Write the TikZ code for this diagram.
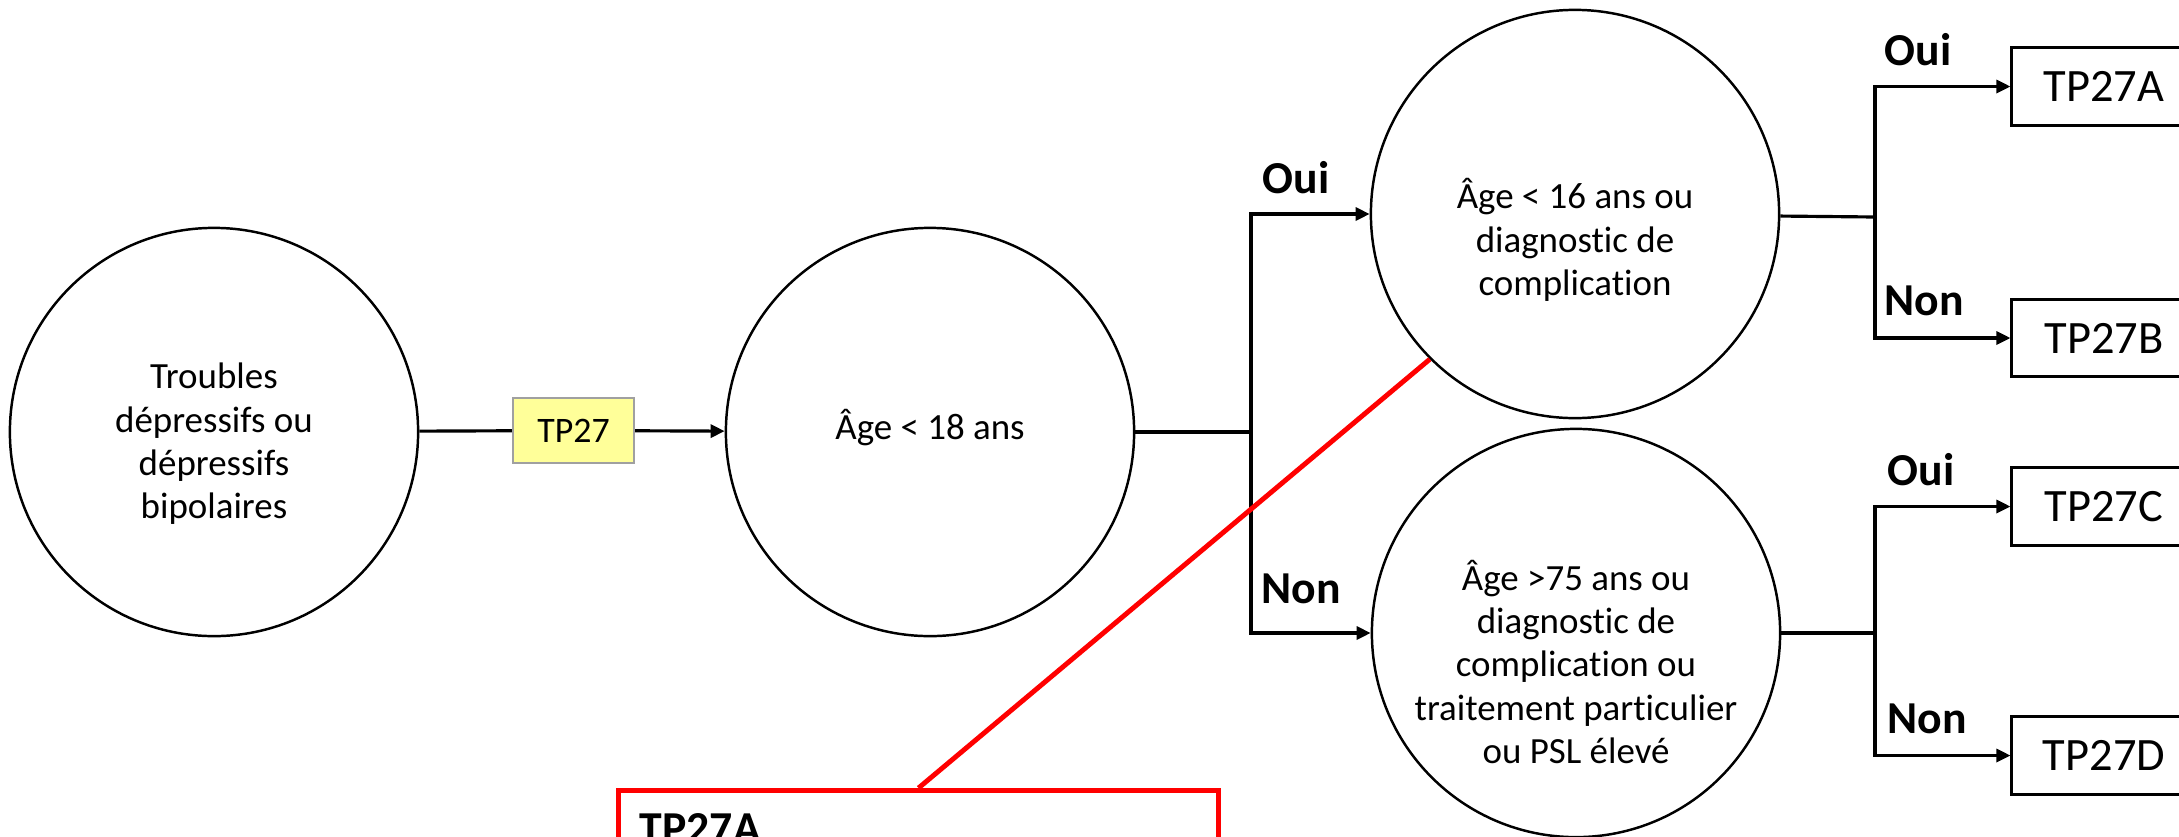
\documentclass[tikz,border=0pt]{standalone}
\usepackage{fontspec}
\setmainfont{Carlito}[Ligatures=NoCommon]
\usetikzlibrary{arrows.meta}
\definecolor{tagyellow}{RGB}{255,255,153}
\definecolor{taggray}{RGB}{160,160,160}
\tikzset{
  decision/.style={circle,draw,line width=0.7pt,minimum size=4.08cm,inner sep=0pt},
  ctext/.style={align=center,font=\fontsize{10.5}{12.3}\selectfont,inner sep=0pt},
  tagbox/.style={draw=taggray,fill=tagyellow,line width=0.6pt,minimum width=1.21cm,minimum height=0.65cm,font=\fontsize{10.2}{12.3}\selectfont},
  leaf/.style={draw,line width=0.85pt,minimum width=1.84cm,minimum height=0.77cm,font=\fontsize{13.2}{15}\selectfont},
  yn/.style={anchor=base west,inner sep=0pt,font=\fontsize{13}{15}\selectfont\bfseries},
  link/.style={line width=0.9pt},
  arr/.style={link,-{Triangle[length=0.14cm,width=0.13cm]}},
}
\begin{document}
\begin{tikzpicture}[x=0.01cm,y=-0.01cm]
		\useasboundingbox (0,0) rectangle (2179,836);
		\clip (0,0) rectangle (2179,836);
		% circles
		\node[decision] (trouble) at (214,432) {};
		\node[decision] (age18) at (930,432) {};
		\node[decision] (age16) at (1575,214) {};
		\node[decision] (age75) at (1576,633) {};
		\node[ctext] (troubletxt) at (214,444) {Troubles\\dépressifs ou\\dépressifs\\bipolaires};
		\node[ctext] (age18txt) at (930,428) {Âge < 18 ans};
		\node[ctext] (age16txt) at (1575,240) {Âge < 16 ans ou\\diagnostic de\\complication};
		\node[ctext] (age75txt) at (1576,662) {Âge >75 ans ou\\diagnostic de\\complication ou\\traitement particulier\\ou PSL élevé};
		\node[tagbox] (tp27) at (573.5,430.5) {TP27};
		% leaves
		\node[leaf] (tpa) at (2104,86.5) {TP27A};
		\node[leaf] (tpb) at (2104,338) {TP27B};
		\node[leaf] (tpc) at (2104,506.5) {TP27C};
		\node[leaf] (tpd) at (2104,755.5) {TP27D};
		% junctions
		\coordinate (jage18) at (1251,432);
		\coordinate (jage16) at (1875,217);
		\coordinate (jage75) at (1875,633);
		\draw[link] (trouble) -- (tp27);
		\draw[arr] (tp27) -- (age18);
		\draw[link] (age18) -- (jage18);
		\draw[arr] (jage18) |- (age16);
		\draw[arr] (jage18) |- (age75);
		\draw[link] (age16) -- (jage16);
		\draw[arr] (jage16) |- (tpa);
		\draw[arr] (jage16) |- (tpb);
		\draw[link] (age75) -- (jage75);
		\draw[arr] (jage75) |- (tpc);
		\draw[arr] (jage75) |- (tpd);
		\node[yn] (oui1) at (1262,193) {Oui};
		\node[yn] (non1) at (1261,603) {Non};
		\node[yn] (oui2) at (1884,65) {Oui};
		\node[yn] (non2) at (1884,315) {Non};
		\node[yn] (oui3) at (1887,485) {Oui};
		\node[yn] (non3) at (1887,733) {Non};
		% note
		\node[draw=red,line width=1.4pt,minimum width=5.99cm,minimum height=1.6cm,anchor=north] (note) at (918.5,788) {};
		\draw[red,line width=1.4pt] (note.north) -- (age16.225);
		\node[yn] (notetitle) at (639,843) {TP27A};
	\end{tikzpicture}
\end{document}
